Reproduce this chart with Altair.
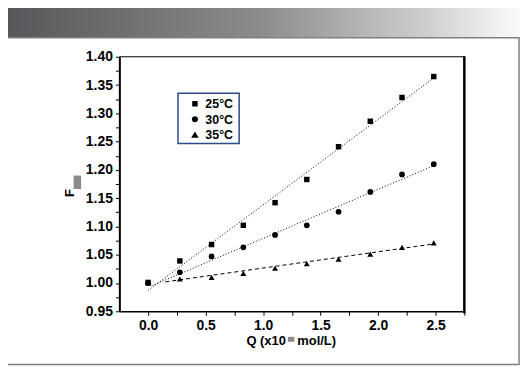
import altair as alt
import pandas as pd

# ---- data ----
SERIES = ["25°C", "30°C", "35°C"]
Q = [0.0, 0.276, 0.552, 0.828, 1.104, 1.380, 1.656, 1.932, 2.208, 2.484]
F_25 = [1.001, 1.039, 1.068, 1.102, 1.142, 1.183, 1.241, 1.286, 1.328, 1.365]
F_30 = [1.000, 1.019, 1.047, 1.063, 1.085, 1.102, 1.126, 1.161, 1.192, 1.210]
F_35 = [1.000, 1.007, 1.010, 1.017, 1.026, 1.034, 1.042, 1.051, 1.063, 1.071]
SHAPES = ["square", "circle", "triangle-up"]
SIZES = [30, 36, 56]

# fitted lines (end points)
FIT_SERIES = ["25°C", "25°C", "30°C", "30°C", "35°C", "35°C"]
FIT_Q = [0.0, 2.48, 0.03, 2.48, 0.15, 2.48]
FIT_F = [0.987, 1.362, 0.995, 1.207, 1.002, 1.069]
DASHES = [[1, 2], [1, 2], [4, 3]]

X_TICKS = [0.0, 0.25, 0.5, 0.75, 1.0, 1.25, 1.5, 1.75, 2.0, 2.25, 2.5, 2.75]
Y_TICKS = [0.95, 0.975, 1.0, 1.025, 1.05, 1.075, 1.1, 1.125, 1.15, 1.175,
           1.2, 1.225, 1.25, 1.275, 1.3, 1.325, 1.35, 1.375, 1.4]

Y_TITLE = "F"
X_TITLE_LEFT = "Q (x10"
X_TITLE_RIGHT = "mol/L)"

pts = pd.DataFrame({
    "Q": Q * 3,
    "F": F_25 + F_30 + F_35,
    "series": [SERIES[0]] * len(Q) + [SERIES[1]] * len(Q) + [SERIES[2]] * len(Q),
})
fits = pd.DataFrame({"Q": FIT_Q, "F": FIT_F, "fit": FIT_SERIES})
one = pd.DataFrame({"k": [0]})

W, H = 347, 256
FONT = "Liberation Sans"

xscale = alt.Scale(domain=[-0.25, 2.75], nice=False, zero=False)
yscale = alt.Scale(domain=[0.95, 1.40], nice=False, zero=False)

xaxis = alt.Axis(values=X_TICKS,
                 labelExpr="(round(datum.value*100) % 50 == 0) ? format(datum.value, '.1f') : ''")
yaxis = alt.Axis(values=Y_TICKS,
                 labelExpr="(round(datum.value*1000) % 50 == 0) ? format(datum.value, '.2f') : ''")

header = alt.Chart(one).mark_rect(
    fill=alt.Gradient(
        gradient="linear",
        stops=[alt.GradientStop(color="#55575a", offset=0),
               alt.GradientStop(color="#8c8c8c", offset=0.5),
               alt.GradientStop(color="#cfcfcf", offset=0.82),
               alt.GradientStop(color="#fbfbfb", offset=1)],
        x1=0, x2=1, y1=0, y2=0),
    strokeWidth=0,
).encode(x=alt.value(-115), x2=alt.value(403), y=alt.value(-49), y2=alt.value(-19))

frame = alt.Chart(one).mark_rect(fillOpacity=0, stroke="#808080", strokeWidth=1.5).encode(
    x=alt.value(-114), x2=alt.value(402), y=alt.value(-19), y2=alt.value(309.5))

top_rule = alt.Chart(one).mark_rule(color="black", strokeWidth=1).encode(
    x=alt.value(0), x2=alt.value(W), y=alt.value(0))
right_rule = alt.Chart(one).mark_rule(color="black", strokeWidth=2.5).encode(
    x=alt.value(W), y=alt.value(-0.5), y2=alt.value(H + 2))

lines = alt.Chart(fits).mark_line(color="black", strokeWidth=1).encode(
    x=alt.X("Q:Q", scale=xscale, axis=xaxis, title=None),
    y=alt.Y("F:Q", scale=yscale, axis=yaxis, title=None),
    detail="fit:N",
    strokeDash=alt.StrokeDash("fit:N", scale=alt.Scale(domain=SERIES, range=DASHES), legend=None),
)

points = alt.Chart(pts).mark_point(filled=True, color="black", opacity=1).encode(
    x=alt.X("Q:Q", scale=xscale, axis=xaxis, title=None),
    y=alt.Y("F:Q", scale=yscale, axis=yaxis, title=None),
    shape=alt.Shape("series:N", scale=alt.Scale(domain=SERIES, range=SHAPES), legend=None),
    size=alt.Size("series:N", scale=alt.Scale(domain=SERIES, range=SIZES), legend=None),
)

# legend box drawn by hand
leg_box = alt.Chart(one).mark_rect(fill="white", stroke="#2b4a86", strokeWidth=1.5).encode(
    x=alt.value(59), x2=alt.value(120.5), y=alt.value(36.7), y2=alt.value(87.3))
leg_layers = []
for i, (name, shp, sz) in enumerate(zip(SERIES, SHAPES, SIZES)):
    yy = 47.3 + i * 15.5
    leg_layers.append(alt.Chart(one).mark_point(filled=True, color="black", opacity=1,
                                                shape=shp, size=sz).encode(
        x=alt.value(76), y=alt.value(yy)))
    leg_layers.append(alt.Chart(one).mark_text(text=name, font=FONT, fontWeight="bold", fontSize=12.5,
                                               color="black", align="left", baseline="middle").encode(
        x=alt.value(86.5), y=alt.value(yy + 0.5)))

ytitle = alt.Chart(one).mark_text(text=Y_TITLE, angle=270, font=FONT, fontWeight="bold",
                                   fontSize=13, color="black", align="center", baseline="middle").encode(
    x=alt.value(-50), y=alt.value(137))
ybox = alt.Chart(one).mark_rect(color="#8a8a8a").encode(
    x=alt.value(-46), x2=alt.value(-38.5), y=alt.value(119.5), y2=alt.value(133))

xt1 = alt.Chart(one).mark_text(text=X_TITLE_LEFT, font=FONT, fontWeight="bold",
                                fontSize=13, color="black", align="right", baseline="alphabetic").encode(
    x=alt.value(167.5), y=alt.value(290))
xbox = alt.Chart(one).mark_rect(color="#8a8a8a").encode(
    x=alt.value(169.5), x2=alt.value(176), y=alt.value(281.7), y2=alt.value(286.7))
xt2 = alt.Chart(one).mark_text(text=X_TITLE_RIGHT, font=FONT, fontWeight="bold",
                                fontSize=13, color="black", align="left", baseline="alphabetic").encode(
    x=alt.value(179), y=alt.value(290))

chart = alt.layer(header, frame, top_rule, right_rule, lines, points, leg_box, *leg_layers,
                  ytitle, ybox, xt1, xbox, xt2).properties(
    width=W, height=H,
    autosize=alt.AutoSizeParams(type="none"),
    padding={"left": 112, "top": 48, "right": 60, "bottom": 54},
    background="white",
).configure_view(strokeWidth=0).configure_axis(
    labelFont=FONT, labelFontWeight="bold", labelFontSize=14, labelColor="black",
    tickColor="black", tickSize=4, tickWidth=1, domainColor="black", grid=False,
    labelOverlap=False, labelFlush=False, labelPadding=3,
).configure_axisY(domainWidth=2).configure_axisX(domainWidth=1.5)

chart.save("out.html", embed_options={"renderer": "svg", "actions": False})
